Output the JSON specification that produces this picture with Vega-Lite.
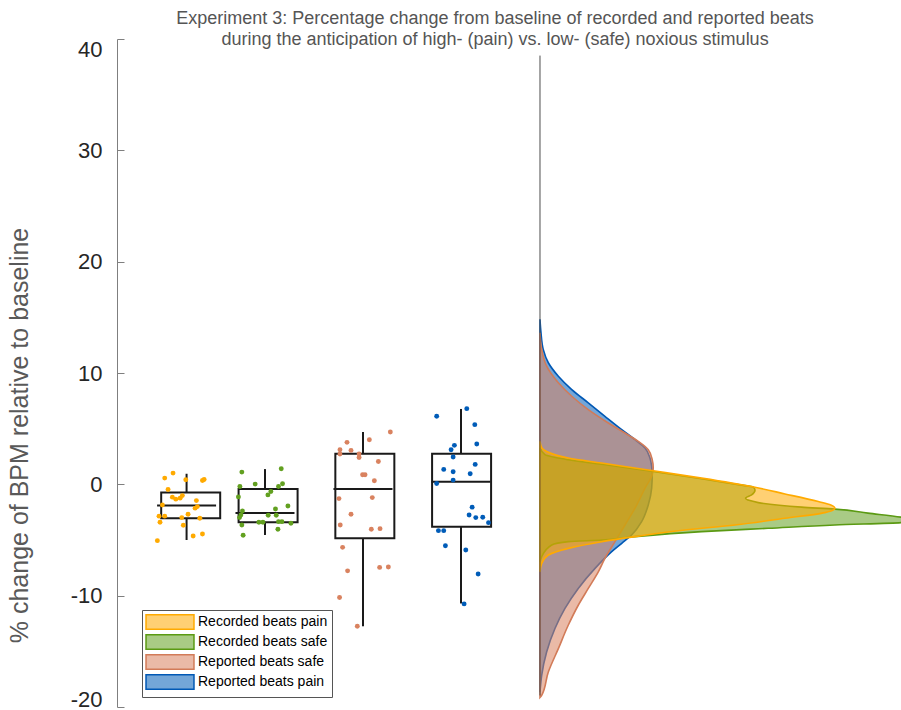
{
  "$schema": "https://vega.github.io/schema/vega-lite/v6.json",
  "width": 784,
  "height": 668,
  "autosize": {"type": "none"},
  "padding": {"left": 117, "top": 39, "right": 0, "bottom": 3},
  "background": "white",
  "config": {
    "view": {"stroke": null},
    "font": "Liberation Sans"
  },
  "title": {
    "text": ["Experiment 3: Percentage change from baseline of recorded and reported beats", "during the anticipation of high- (pain) vs. low- (safe) noxious stimulus"],
    "fontSize": 18, "fontWeight": "normal", "color": "#555555", "font": "Liberation Sans",
    "anchor": "middle", "dx": -14, "offset": -11, "lineHeight": 21
  },
  "datasets": {
    "boxes": [
      {"group": "Recorded beats pain", "pos": 0.71, "lo": -5.0, "q1": -3.05, "median": -1.91, "q3": -0.74, "hi": 0.95},
      {"group": "Recorded beats safe", "pos": 1.51, "lo": -4.55, "q1": -3.41, "median": -2.57, "q3": -0.41, "hi": 1.37},
      {"group": "Reported beats safe", "pos": 2.51, "lo": -12.75, "q1": -4.85, "median": -0.43, "q3": 2.75, "hi": 4.70},
      {"group": "Reported beats pain", "pos": 3.51, "lo": -10.7, "q1": -3.80, "median": 0.23, "q3": 2.75, "hi": 6.77}
    ],
    "points": [
      {"group": "Recorded beats pain", "jitter": 0.487, "value": 0.56},
      {"group": "Recorded beats pain", "jitter": 0.572, "value": 1.01},
      {"group": "Recorded beats pain", "jitter": 0.702, "value": 0.41},
      {"group": "Recorded beats pain", "jitter": 0.872, "value": 0.34},
      {"group": "Recorded beats pain", "jitter": 0.889, "value": 0.43},
      {"group": "Recorded beats pain", "jitter": 0.521, "value": -0.47},
      {"group": "Recorded beats pain", "jitter": 0.565, "value": -1.15},
      {"group": "Recorded beats pain", "jitter": 0.600, "value": -1.33},
      {"group": "Recorded beats pain", "jitter": 0.644, "value": -1.24},
      {"group": "Recorded beats pain", "jitter": 0.667, "value": -1.01},
      {"group": "Recorded beats pain", "jitter": 0.810, "value": -1.46},
      {"group": "Recorded beats pain", "jitter": 0.463, "value": -1.85},
      {"group": "Recorded beats pain", "jitter": 0.820, "value": -2.0},
      {"group": "Recorded beats pain", "jitter": 0.797, "value": -2.14},
      {"group": "Recorded beats pain", "jitter": 0.429, "value": -2.86},
      {"group": "Recorded beats pain", "jitter": 0.487, "value": -2.86},
      {"group": "Recorded beats pain", "jitter": 0.725, "value": -2.69},
      {"group": "Recorded beats pain", "jitter": 0.661, "value": -2.99},
      {"group": "Recorded beats pain", "jitter": 0.845, "value": -3.05},
      {"group": "Recorded beats pain", "jitter": 0.439, "value": -3.41},
      {"group": "Recorded beats pain", "jitter": 0.677, "value": -3.68},
      {"group": "Recorded beats pain", "jitter": 0.777, "value": -4.64},
      {"group": "Recorded beats pain", "jitter": 0.872, "value": -4.46},
      {"group": "Recorded beats pain", "jitter": 0.412, "value": -5.06},
      {"group": "Recorded beats safe", "jitter": 1.274, "value": 1.10},
      {"group": "Recorded beats safe", "jitter": 1.676, "value": 1.40},
      {"group": "Recorded beats safe", "jitter": 1.410, "value": 0.02},
      {"group": "Recorded beats safe", "jitter": 1.254, "value": -0.20},
      {"group": "Recorded beats safe", "jitter": 1.689, "value": 0.05},
      {"group": "Recorded beats safe", "jitter": 1.648, "value": -0.20},
      {"group": "Recorded beats safe", "jitter": 1.570, "value": -0.65},
      {"group": "Recorded beats safe", "jitter": 1.540, "value": -0.95},
      {"group": "Recorded beats safe", "jitter": 1.239, "value": -1.13},
      {"group": "Recorded beats safe", "jitter": 1.744, "value": -1.94},
      {"group": "Recorded beats safe", "jitter": 1.617, "value": -2.21},
      {"group": "Recorded beats safe", "jitter": 1.280, "value": -2.39},
      {"group": "Recorded beats safe", "jitter": 1.264, "value": -2.75},
      {"group": "Recorded beats safe", "jitter": 1.250, "value": -2.99},
      {"group": "Recorded beats safe", "jitter": 1.543, "value": -2.78},
      {"group": "Recorded beats safe", "jitter": 1.625, "value": -2.78},
      {"group": "Recorded beats safe", "jitter": 1.274, "value": -3.65},
      {"group": "Recorded beats safe", "jitter": 1.448, "value": -3.41},
      {"group": "Recorded beats safe", "jitter": 1.489, "value": -3.41},
      {"group": "Recorded beats safe", "jitter": 1.648, "value": -3.35},
      {"group": "Recorded beats safe", "jitter": 1.683, "value": -3.35},
      {"group": "Recorded beats safe", "jitter": 1.775, "value": -3.50},
      {"group": "Recorded beats safe", "jitter": 1.642, "value": -4.04},
      {"group": "Recorded beats safe", "jitter": 1.287, "value": -4.58},
      {"group": "Reported beats safe", "jitter": 2.789, "value": 4.70},
      {"group": "Reported beats safe", "jitter": 2.575, "value": 4.01},
      {"group": "Reported beats safe", "jitter": 2.347, "value": 3.77},
      {"group": "Reported beats safe", "jitter": 2.275, "value": 3.11},
      {"group": "Reported beats safe", "jitter": 2.275, "value": 2.72},
      {"group": "Reported beats safe", "jitter": 2.388, "value": 3.05},
      {"group": "Reported beats safe", "jitter": 2.470, "value": 2.72},
      {"group": "Reported beats safe", "jitter": 2.470, "value": 2.41},
      {"group": "Reported beats safe", "jitter": 2.667, "value": 2.05},
      {"group": "Reported beats safe", "jitter": 2.506, "value": 0.86},
      {"group": "Reported beats safe", "jitter": 2.531, "value": 0.86},
      {"group": "Reported beats safe", "jitter": 2.626, "value": 0.32},
      {"group": "Reported beats safe", "jitter": 2.265, "value": -1.28},
      {"group": "Reported beats safe", "jitter": 2.605, "value": -1.19},
      {"group": "Reported beats safe", "jitter": 2.388, "value": -2.69},
      {"group": "Reported beats safe", "jitter": 2.278, "value": -3.65},
      {"group": "Reported beats safe", "jitter": 2.595, "value": -4.04},
      {"group": "Reported beats safe", "jitter": 2.684, "value": -3.98},
      {"group": "Reported beats safe", "jitter": 2.302, "value": -5.66},
      {"group": "Reported beats safe", "jitter": 2.353, "value": -7.77},
      {"group": "Reported beats safe", "jitter": 2.680, "value": -7.46},
      {"group": "Reported beats safe", "jitter": 2.769, "value": -7.43},
      {"group": "Reported beats safe", "jitter": 2.271, "value": -10.16},
      {"group": "Reported beats safe", "jitter": 2.452, "value": -12.75},
      {"group": "Reported beats pain", "jitter": 3.262, "value": 6.11},
      {"group": "Reported beats pain", "jitter": 3.569, "value": 6.80},
      {"group": "Reported beats pain", "jitter": 3.651, "value": 5.36},
      {"group": "Reported beats pain", "jitter": 3.671, "value": 3.62},
      {"group": "Reported beats pain", "jitter": 3.443, "value": 3.50},
      {"group": "Reported beats pain", "jitter": 3.409, "value": 3.11},
      {"group": "Reported beats pain", "jitter": 3.430, "value": 2.45},
      {"group": "Reported beats pain", "jitter": 3.655, "value": 1.79},
      {"group": "Reported beats pain", "jitter": 3.334, "value": 1.34},
      {"group": "Reported beats pain", "jitter": 3.430, "value": 1.13},
      {"group": "Reported beats pain", "jitter": 3.604, "value": 0.95},
      {"group": "Reported beats pain", "jitter": 3.430, "value": 0.38},
      {"group": "Reported beats pain", "jitter": 3.262, "value": 0.07},
      {"group": "Reported beats pain", "jitter": 3.624, "value": -2.05},
      {"group": "Reported beats pain", "jitter": 3.593, "value": -2.75},
      {"group": "Reported beats pain", "jitter": 3.661, "value": -2.99},
      {"group": "Reported beats pain", "jitter": 3.732, "value": -2.95},
      {"group": "Reported beats pain", "jitter": 3.791, "value": -3.44},
      {"group": "Reported beats pain", "jitter": 3.280, "value": -4.16},
      {"group": "Reported beats pain", "jitter": 3.334, "value": -4.16},
      {"group": "Reported beats pain", "jitter": 3.351, "value": -5.51},
      {"group": "Reported beats pain", "jitter": 3.559, "value": -5.90},
      {"group": "Reported beats pain", "jitter": 3.685, "value": -8.06},
      {"group": "Reported beats pain", "jitter": 3.542, "value": -10.74}
    ],
    "density": [
      {"group": "Reported beats pain", "value": 14.82, "density": 0},
      {"group": "Reported beats pain", "value": 13.62, "density": 0.0007},
      {"group": "Reported beats pain", "value": 12.12, "density": 0.0023},
      {"group": "Reported beats pain", "value": 10.92, "density": 0.0059},
      {"group": "Reported beats pain", "value": 9.71, "density": 0.0130},
      {"group": "Reported beats pain", "value": 8.51, "density": 0.0225},
      {"group": "Reported beats pain", "value": 7.32, "density": 0.0342},
      {"group": "Reported beats pain", "value": 6.11, "density": 0.0460},
      {"group": "Reported beats pain", "value": 4.91, "density": 0.0579},
      {"group": "Reported beats pain", "value": 4.01, "density": 0.0673},
      {"group": "Reported beats pain", "value": 3.26, "density": 0.0744},
      {"group": "Reported beats pain", "value": 2.36, "density": 0.0779},
      {"group": "Reported beats pain", "value": 1.60, "density": 0.0791},
      {"group": "Reported beats pain", "value": 0.86, "density": 0.0795},
      {"group": "Reported beats pain", "value": -0.34, "density": 0.0791},
      {"group": "Reported beats pain", "value": -1.85, "density": 0.0767},
      {"group": "Reported beats pain", "value": -3.35, "density": 0.0720},
      {"group": "Reported beats pain", "value": -4.55, "density": 0.0649},
      {"group": "Reported beats pain", "value": -5.30, "density": 0.0579},
      {"group": "Reported beats pain", "value": -6.05, "density": 0.0508},
      {"group": "Reported beats pain", "value": -7.55, "density": 0.0390},
      {"group": "Reported beats pain", "value": -9.35, "density": 0.0271},
      {"group": "Reported beats pain", "value": -11.15, "density": 0.0177},
      {"group": "Reported beats pain", "value": -12.95, "density": 0.0106},
      {"group": "Reported beats pain", "value": -15.06, "density": 0.0047},
      {"group": "Reported beats pain", "value": -17.16, "density": 0.0012},
      {"group": "Reported beats pain", "value": -18.67, "density": 0},
      {"group": "Reported beats safe", "value": 13.62, "density": 0},
      {"group": "Reported beats safe", "value": 12.12, "density": 0.0012},
      {"group": "Reported beats safe", "value": 10.61, "density": 0.0047},
      {"group": "Reported beats safe", "value": 9.12, "density": 0.0130},
      {"group": "Reported beats safe", "value": 7.91, "density": 0.0225},
      {"group": "Reported beats safe", "value": 6.71, "density": 0.0342},
      {"group": "Reported beats safe", "value": 5.51, "density": 0.0484},
      {"group": "Reported beats safe", "value": 4.61, "density": 0.0602},
      {"group": "Reported beats safe", "value": 3.86, "density": 0.0696},
      {"group": "Reported beats safe", "value": 3.11, "density": 0.0767},
      {"group": "Reported beats safe", "value": 2.21, "density": 0.0795},
      {"group": "Reported beats safe", "value": 1.49, "density": 0.0802},
      {"group": "Reported beats safe", "value": 0.86, "density": 0.0795},
      {"group": "Reported beats safe", "value": -0.34, "density": 0.0744},
      {"group": "Reported beats safe", "value": -2.14, "density": 0.0673},
      {"group": "Reported beats safe", "value": -3.65, "density": 0.0602},
      {"group": "Reported beats safe", "value": -5.15, "density": 0.0531},
      {"group": "Reported beats safe", "value": -6.65, "density": 0.0460},
      {"group": "Reported beats safe", "value": -7.86, "density": 0.0413},
      {"group": "Reported beats safe", "value": -9.35, "density": 0.0342},
      {"group": "Reported beats safe", "value": -10.86, "density": 0.0271},
      {"group": "Reported beats safe", "value": -12.66, "density": 0.0200},
      {"group": "Reported beats safe", "value": -14.76, "density": 0.0130},
      {"group": "Reported beats safe", "value": -16.86, "density": 0.0059},
      {"group": "Reported beats safe", "value": -18.96, "density": 0.0012},
      {"group": "Reported beats safe", "value": -19.14, "density": 0},
      {"group": "Recorded beats safe", "value": 3.29, "density": 0},
      {"group": "Recorded beats safe", "value": 2.66, "density": 0.0035},
      {"group": "Recorded beats safe", "value": 2.21, "density": 0.0198},
      {"group": "Recorded beats safe", "value": 1.80, "density": 0.0437},
      {"group": "Recorded beats safe", "value": 1.17, "density": 0.0791},
      {"group": "Recorded beats safe", "value": 0.50, "density": 0.1145},
      {"group": "Recorded beats safe", "value": -0.05, "density": 0.1416},
      {"group": "Recorded beats safe", "value": -0.25, "density": 0.1510},
      {"group": "Recorded beats safe", "value": -0.50, "density": 0.1523},
      {"group": "Recorded beats safe", "value": -0.95, "density": 0.1499},
      {"group": "Recorded beats safe", "value": -1.24, "density": 0.1456},
      {"group": "Recorded beats safe", "value": -1.46, "density": 0.1487},
      {"group": "Recorded beats safe", "value": -1.64, "density": 0.1546},
      {"group": "Recorded beats safe", "value": -2.05, "density": 0.1853},
      {"group": "Recorded beats safe", "value": -2.23, "density": 0.2089},
      {"group": "Recorded beats safe", "value": -2.59, "density": 0.2323},
      {"group": "Recorded beats safe", "value": -2.95, "density": 0.2557},
      {"group": "Recorded beats safe", "value": -3.20, "density": 0.2680},
      {"group": "Recorded beats safe", "value": -3.44, "density": 0.2557},
      {"group": "Recorded beats safe", "value": -3.65, "density": 0.2089},
      {"group": "Recorded beats safe", "value": -3.95, "density": 0.1615},
      {"group": "Recorded beats safe", "value": -4.25, "density": 0.1145},
      {"group": "Recorded beats safe", "value": -4.70, "density": 0.0673},
      {"group": "Recorded beats safe", "value": -5.00, "density": 0.0437},
      {"group": "Recorded beats safe", "value": -5.15, "density": 0.0201},
      {"group": "Recorded beats safe", "value": -5.45, "density": 0.0083},
      {"group": "Recorded beats safe", "value": -6.50, "density": 0.0012},
      {"group": "Recorded beats safe", "value": -6.98, "density": 0},
      {"group": "Recorded beats pain", "value": 3.86, "density": 0},
      {"group": "Recorded beats pain", "value": 3.30, "density": 0.0012},
      {"group": "Recorded beats pain", "value": 2.95, "density": 0.0047},
      {"group": "Recorded beats pain", "value": 2.36, "density": 0.0201},
      {"group": "Recorded beats pain", "value": 1.91, "density": 0.0437},
      {"group": "Recorded beats pain", "value": 1.24, "density": 0.0791},
      {"group": "Recorded beats pain", "value": 0.56, "density": 0.1145},
      {"group": "Recorded beats pain", "value": -0.20, "density": 0.1499},
      {"group": "Recorded beats pain", "value": -0.86, "density": 0.1735},
      {"group": "Recorded beats pain", "value": -1.55, "density": 0.1971},
      {"group": "Recorded beats pain", "value": -1.85, "density": 0.2060},
      {"group": "Recorded beats pain", "value": -2.14, "density": 0.2089},
      {"group": "Recorded beats pain", "value": -2.39, "density": 0.2060},
      {"group": "Recorded beats pain", "value": -2.54, "density": 0.2018},
      {"group": "Recorded beats pain", "value": -3.05, "density": 0.1735},
      {"group": "Recorded beats pain", "value": -3.65, "density": 0.1381},
      {"group": "Recorded beats pain", "value": -4.10, "density": 0.1027},
      {"group": "Recorded beats pain", "value": -4.70, "density": 0.0673},
      {"group": "Recorded beats pain", "value": -5.15, "density": 0.0437},
      {"group": "Recorded beats pain", "value": -5.75, "density": 0.0201},
      {"group": "Recorded beats pain", "value": -6.35, "density": 0.0059},
      {"group": "Recorded beats pain", "value": -7.10, "density": 0.0012},
      {"group": "Recorded beats pain", "value": -7.86, "density": 0}
    ],
    "baseline": [{"top": 38.51, "bottom": -18.96}]
  },
  "layer": [
    {
      "data": {"name": "boxes"},
      "mark": {"type": "rule", "color": "#1a1a1a", "strokeWidth": 2},
      "encoding": {
        "x": {"field": "pos", "type": "quantitative", "scale": {"domain": [0, 8], "nice": false, "zero": false}, "axis": null},
        "y": {
          "field": "q3", "type": "quantitative",
          "scale": {"domain": [-20, 40], "nice": false, "zero": false},
          "title": "% change of BPM relative to baseline",
          "axis": {
            "values": [-20, -10, 0, 10, 20, 30, 40],
            "labelExpr": "datum.value + ''",
            "grid": false,
            "tickSize": -7,
            "tickColor": "#7f7f7f",
            "domainColor": "#7f7f7f",
            "tickWidth": 1,
            "domainWidth": 1,
            "labelFontSize": 22,
            "labelColor": "#262626",
            "labelPadding": 22,
            "labelFont": "Liberation Sans",
            "labelFlush": true,
            "labelOffset": {"condition": {"test": "datum.value === -20", "value": 4}, "value": 0},
            "labelOverlap": false,
            "titleFont": "Liberation Sans",
            "titleFontSize": 25,
            "titleFontWeight": "normal",
            "titleColor": "#595959",
            "titleX": -98,
            "titleY": 396,
            "titleAngle": -90,
            "titleAlign": "center",
            "titleBaseline": "middle"
          }
        },
        "y2": {"field": "hi"}
      }
    },
    {
      "data": {"name": "boxes"},
      "mark": {"type": "rule", "color": "#1a1a1a", "strokeWidth": 2},
      "encoding": {
        "x": {"field": "pos", "type": "quantitative", "scale": {"domain": [0, 8], "nice": false, "zero": false}, "axis": null},
        "y": {"field": "lo", "type": "quantitative", "title": "% change of BPM relative to baseline"},
        "y2": {"field": "q1"}
      }
    },
    {
      "data": {"name": "boxes"},
      "mark": {"type": "bar", "width": 59, "fill": "white", "fillOpacity": 0, "stroke": "#1a1a1a", "strokeWidth": 2},
      "encoding": {
        "x": {"field": "pos", "type": "quantitative", "scale": {"domain": [0, 8], "nice": false, "zero": false}, "axis": null},
        "y": {"field": "q1", "type": "quantitative", "title": "% change of BPM relative to baseline"},
        "y2": {"field": "q3"}
      }
    },
    {
      "data": {"name": "boxes"},
      "mark": {"type": "tick", "orient": "horizontal", "size": 59, "thickness": 2, "color": "#1a1a1a", "opacity": 1},
      "encoding": {
        "x": {"field": "pos", "type": "quantitative", "scale": {"domain": [0, 8], "nice": false, "zero": false}, "axis": null},
        "y": {"field": "median", "type": "quantitative", "title": "% change of BPM relative to baseline"}
      }
    },
    {
      "data": {"name": "points"},
      "mark": {"type": "circle", "size": 24, "opacity": 1},
      "encoding": {
        "x": {"field": "jitter", "type": "quantitative", "scale": {"domain": [0, 8], "nice": false, "zero": false}, "axis": null},
        "y": {"field": "value", "type": "quantitative", "title": "% change of BPM relative to baseline"},
        "fill": {"field": "group", "type": "nominal"}
      }
    },
    {
      "data": {"name": "density"},
      "mark": {"type": "area", "orient": "horizontal", "interpolate": "monotone", "fillOpacity": 0.55, "strokeWidth": 1.6, "clip": true},
      "encoding": {
        "y": {"field": "value", "type": "quantitative", "title": "% change of BPM relative to baseline"},
        "x": {"field": "density", "type": "quantitative", "scale": {"domain": [-0.2996, 0.2557], "nice": false, "zero": false}, "axis": null},
        "x2": {"datum": 0},
        "fill": {
          "field": "group", "type": "nominal",
          "scale": {
            "domain": ["Recorded beats pain", "Recorded beats safe", "Reported beats safe", "Reported beats pain"],
            "range": ["#FFAA00", "#62A020", "#D9825F", "#005CB8"]
          },
          "legend": {
            "title": null,
            "orient": "none",
            "legendX": 25,
            "legendY": 571,
            "padding": 4,
            "strokeColor": "#555555",
            "fillColor": "white",
            "symbolType": "M-3.31,-1H3.31V1H-3.31Z",
            "symbolSize": 210,
            "symbolStrokeWidth": 1.5,
            "symbolOffset": 16,
            "labelOffset": 20,
            "labelFontSize": 14,
            "labelFont": "Liberation Sans",
            "labelColor": "#000000",
            "rowPadding": -2,
            "labelLimit": 300,
            "encode": {
              "symbols": {
                "update": {
                  "fillOpacity": {"value": 0.55},
                  "strokeOpacity": {"value": 1},
                  "opacity": {"value": 1}
                }
              }
            }
          }
        },
        "stroke": {
          "field": "group", "type": "nominal",
          "scale": {
            "domain": ["Recorded beats pain", "Recorded beats safe", "Reported beats safe", "Reported beats pain"],
            "range": ["#FFAA00", "#5B9A13", "#D27B58", "#0058B5"]
          },
          "legend": {
            "title": null,
            "orient": "none",
            "legendX": 25,
            "legendY": 571,
            "padding": 4,
            "strokeColor": "#555555",
            "fillColor": "white",
            "symbolType": "M-3.31,-1H3.31V1H-3.31Z",
            "symbolSize": 210,
            "symbolStrokeWidth": 1.5,
            "symbolOffset": 16,
            "labelOffset": 20,
            "labelFontSize": 14,
            "labelFont": "Liberation Sans",
            "labelColor": "#000000",
            "rowPadding": -2,
            "labelLimit": 300
          }
        }
      }
    },
    {
      "data": {"name": "baseline"},
      "mark": {"type": "rule", "color": "#4d4d4d", "strokeWidth": 1},
      "encoding": {
        "x": {"datum": 0, "type": "quantitative", "scale": {"domain": [-0.2996, 0.2557], "nice": false, "zero": false}, "axis": null},
        "y": {"field": "top", "type": "quantitative", "title": "% change of BPM relative to baseline"},
        "y2": {"field": "bottom"}
      }
    }
  ],
  "resolve": {"scale": {"x": "independent"}}
}
